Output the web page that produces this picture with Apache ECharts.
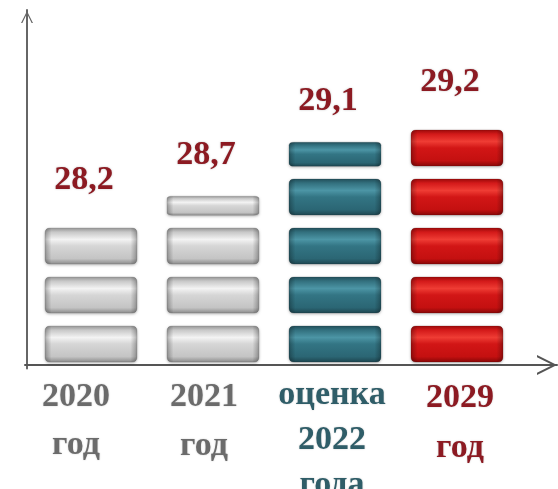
<!DOCTYPE html>
<html>
<head>
<meta charset="utf-8">
<script src="https://cdn.jsdelivr.net/npm/echarts@6/dist/echarts.min.js"></script>
<style>
  html, body { margin: 0; padding: 0; background: #fff; }
  #chart { width: 558px; height: 489px; }
</style>
</head>
<body>
<div id="chart"></div>
<script>
var categories = ['2020\nгод', '2021\nгод', 'оценка\n2022\nгода', '2029\nгод'];
var values = [28.2, 28.7, 29.1, 29.2];
// blocks as drawn: whole blocks, plus the thin top block (share of a full block height)
var fullBlocks = [3, 3, 4, 5];
var partBlocks = [0, 0.53, 0.67, 0];

var PITCH = 49, BLOCK_H = 36, HALF_GAP = 6.5, BLOCK_W = 92;
var BAR_TOP = 10, BAR_BOTTOM = 120.5;
var yMax = (489 - BAR_TOP - BAR_BOTTOM) / PITCH;

var FONT = 'Liberation Serif';
var DARK_RED = '#8c1a22';
var chevron = 'path://M0,12 L6,0 L12,12 L10.6,12 L6,2.6 L1.4,12 Z';
var brick = 'path://M5,0 H87 Q92,0 92,5 V31 Q92,36 87,36 H5 Q0,36 0,31 V5 Q0,0 5,0 Z';

function gloss(c) {
  return new echarts.graphic.LinearGradient(0, 0, 0, 1, [
    { offset: 0, color: c[0] },
    { offset: 0.12, color: c[1] },
    { offset: 0.32, color: c[2] },
    { offset: 0.5, color: c[3] },
    { offset: 0.85, color: c[4] },
    { offset: 1, color: c[5] }
  ]);
}
var gray = { fill: gloss(['#9a9a9a', '#c9c9c9', '#f3f3f3', '#d6d6d6', '#c4c4c4', '#8c8c8c']), edge: '#555' };
var teal = { fill: gloss(['#24525d', '#33717f', '#4c95a5', '#337584', '#2b6674', '#1e4650']), edge: '#1a2e33' };
var red = { fill: gloss(['#a00c0c', '#d41a1a', '#ef3c34', '#d21616', '#c41010', '#880707']), edge: '#5a0808' };
var looks = [gray, gray, teal, red];
var sideShade = new echarts.graphic.LinearGradient(0, 0, 1, 0, [
  { offset: 0, color: 'rgba(0,0,0,0.28)' },
  { offset: 0.07, color: 'rgba(0,0,0,0)' },
  { offset: 0.93, color: 'rgba(0,0,0,0)' },
  { offset: 1, color: 'rgba(0,0,0,0.28)' }
]);
var textColors = ['#6b6b6b', '#6b6b6b', '#2f5d68', DARK_RED];
var lineHeights = [48, 49, 45, 50];

function blockStyle(i) {
  return {
    color: looks[i].fill,
    borderColor: looks[i].edge,
    borderWidth: 1.2,
    shadowBlur: 3,
    shadowOffsetY: 1,
    shadowColor: 'rgba(0,0,0,0.3)'
  };
}
var shadeStyle = { color: sideShade };

var valueLabel = {
  position: 'top',
  distance: 24,
  offset: [-7, 0],
  fontFamily: FONT,
  fontWeight: 'bold',
  fontSize: 34,
  color: DARK_RED,
  textShadowColor: 'rgba(0,0,0,0.25)',
  textShadowBlur: 2,
  formatter: function (p) { return String(values[p.dataIndex]).replace('.', ','); }
};

function fullData(withLabel) {
  return fullBlocks.map(function (n, i) {
    return {
      value: n,
      symbolBoundingData: n,
      itemStyle: withLabel ? blockStyle(i) : shadeStyle,
      label: { show: withLabel && partBlocks[i] === 0 }
    };
  });
}
function partData(withLabel) {
  return partBlocks.map(function (p, i) {
    if (!p) return '-';
    return {
      value: fullBlocks[i] + (HALF_GAP + p * BLOCK_H) / PITCH,
      symbolSize: [BLOCK_W, p * BLOCK_H],
      itemStyle: withLabel ? blockStyle(i) : shadeStyle,
      label: { show: withLabel }
    };
  });
}
function brickSeries(data, repeat, z) {
  var s = {
    type: 'pictorialBar',
    xAxisIndex: 0, yAxisIndex: 0,
    symbol: brick,
    barGap: '-100%',
    label: valueLabel,
    silent: z > 2,
    data: data,
    z: z
  };
  if (repeat) {
    s.symbolSize = [BLOCK_W, BLOCK_H];
    s.symbolRepeat = true;
    s.symbolMargin = HALF_GAP + '!';
  } else {
    s.symbolPosition = 'end';
  }
  return s;
}

var labelItems = categories.map(function (c, i) {
  return { value: c, textStyle: { color: textColors[i], lineHeight: lineHeights[i] } };
});

var myChart = echarts.init(document.getElementById('chart'));
var option = {
  animation: false,
  grid: [
    { left: 30, right: 40, top: BAR_TOP, bottom: BAR_BOTTOM, outerBoundsMode: 'none' },
    { left: 12, right: 34, top: 10, bottom: 124, outerBoundsMode: 'none' },
    { left: 25, right: 1, top: 10, bottom: 124, outerBoundsMode: 'none' }
  ],
  xAxis: [
    { gridIndex: 0, type: 'category', data: categories, show: false },
    {
      gridIndex: 1, type: 'category', data: labelItems,
      axisLine: { show: false }, axisTick: { show: false },
      axisLabel: {
        interval: 0, margin: 8,
        fontFamily: FONT, fontWeight: 'bold', fontSize: 34,
        textShadowColor: 'rgba(0,0,0,0.2)', textShadowBlur: 2
      }
    },
    {
      gridIndex: 2, type: 'value',
      axisLine: {
        show: true, onZero: false,
        symbol: ['none', chevron], symbolSize: [22, 20], symbolOffset: [0, -10],
        lineStyle: { color: '#555', width: 2 }
      },
      axisTick: { show: false }, axisLabel: { show: false }, splitLine: { show: false }
    }
  ],
  yAxis: [
    {
      gridIndex: 0, type: 'value', min: 0, max: yMax, offset: 3,
      axisLine: {
        show: true, onZero: false,
        symbol: ['none', chevron], symbolSize: [12, 14], symbolOffset: [0, -7],
        lineStyle: { color: '#666', width: 2 }
      },
      axisTick: { show: false }, axisLabel: { show: false }, splitLine: { show: false }
    },
    { gridIndex: 1, type: 'value', show: false },
    { gridIndex: 2, type: 'value', show: false }
  ],
  series: [
    brickSeries(fullData(true), true, 2),
    brickSeries(partData(true), false, 2),
    brickSeries(fullData(false), true, 3),
    brickSeries(partData(false), false, 3)
  ]
};
myChart.setOption(option);
</script>
</body>
</html>
